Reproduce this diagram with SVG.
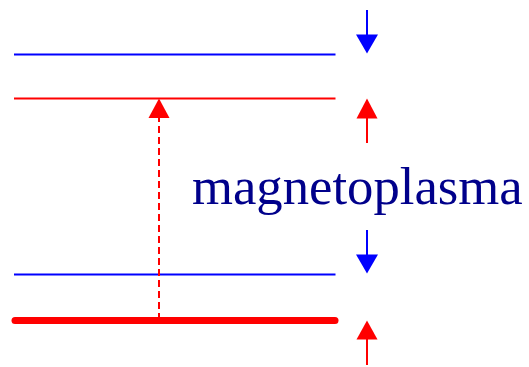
<svg xmlns="http://www.w3.org/2000/svg" width="529" height="367" viewBox="0 0 529 367">
<style>
.b{stroke:#0000ff;stroke-width:2;fill:none}
.r{stroke:#ff0000;stroke-width:2;fill:none}
.bh{fill:#0000ff}
.rh{fill:#ff0000}
.lbl{font-family:"Liberation Serif",serif;font-size:52.7px;fill:#00008b}
</style>
<g id="level-blue-top"><line class="b" x1="14" y1="54.5" x2="335.5" y2="54.5"/></g>
<g id="level-red-top"><line class="r" x1="14" y1="98.5" x2="335.5" y2="98.5"/></g>
<g id="level-blue-bottom"><line class="b" x1="14" y1="274.5" x2="335.5" y2="274.5"/></g>
<g id="level-red-bottom"><line x1="15" y1="320.5" x2="335" y2="320.5" stroke="#ff0000" stroke-width="7" stroke-linecap="round"/></g>
<g id="label"><text class="lbl" x="192" y="204">magnetoplasma</text></g>
<g id="connectors">
<line class="r" x1="159" y1="320" x2="159" y2="117" stroke-dasharray="7,4"/>
<polygon class="rh" points="159,98.5 148.5,118 169.5,118"/>
<line class="b" x1="367" y1="10" x2="367" y2="36"/>
<polygon class="bh" points="356,34.5 378,34.5 367,53.5"/>
<line class="r" x1="367" y1="117" x2="367" y2="143"/>
<polygon class="rh" points="367,98.5 356.5,118.5 377.5,118.5"/>
<line class="b" x1="367" y1="230" x2="367" y2="256"/>
<polygon class="bh" points="356,254.5 378,254.5 367,273.5"/>
<line class="r" x1="367" y1="338" x2="367" y2="365"/>
<polygon class="rh" points="367,320.5 356.5,339.5 377.5,339.5"/>
</g>
</svg>
